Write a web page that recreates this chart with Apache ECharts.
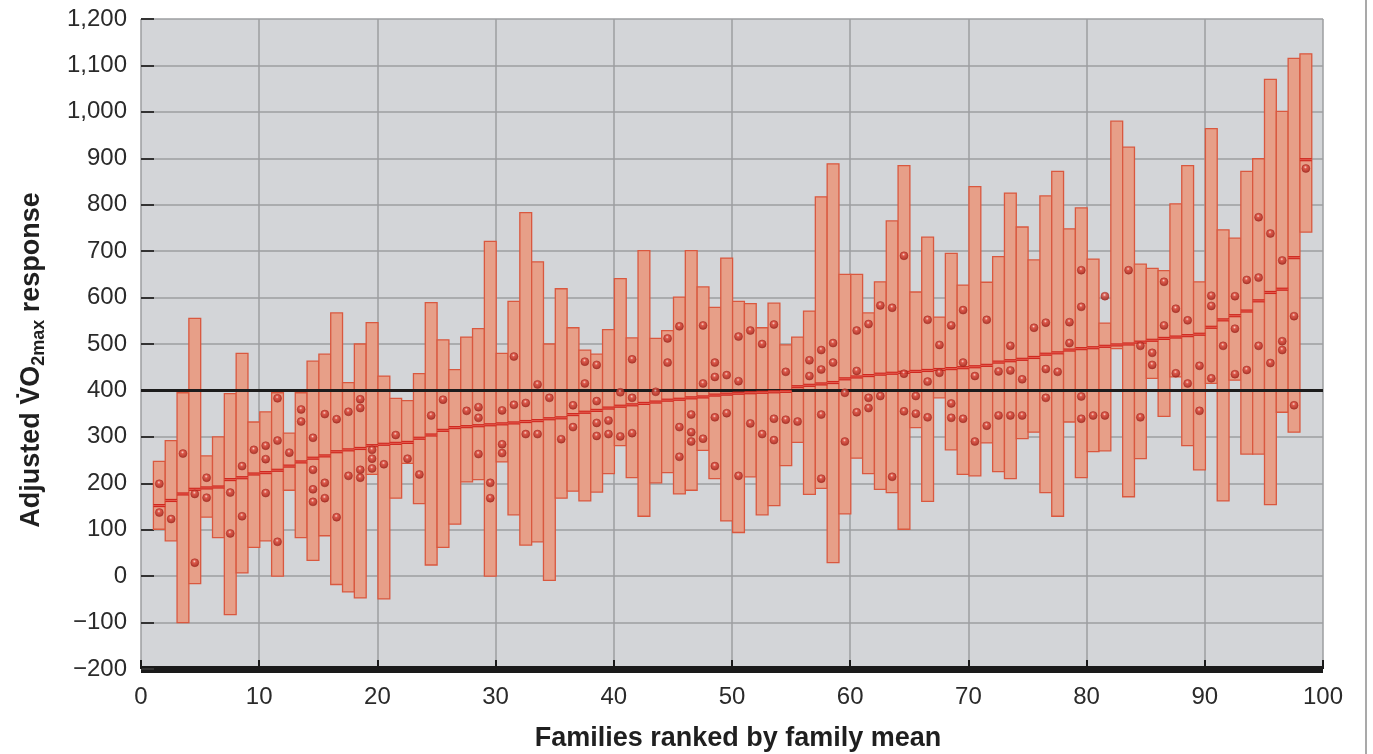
<!DOCTYPE html>
<html>
<head>
<meta charset="utf-8">
<script src="https://cdn.jsdelivr.net/npm/echarts@6/dist/echarts.min.js"></script>
<style>
  html, body { margin: 0; padding: 0; background: #ffffff; }
  #chart { width: 1373px; height: 754px; }
</style>
</head>
<body>
<div id="chart"></div>
<script>
// Highest response in each family (families 1..98, ranked by family mean)
const famMax = [
  247, 292, 395, 555, 259, 300, 393, 480, 332,
  354, 395, 308, 395, 463, 478, 567, 417, 500, 546,
  431, 383, 378, 436, 589, 509, 445, 515, 533, 721,
  480, 592, 783, 677, 500, 619, 535, 487, 478, 531,
  641, 513, 701, 512, 529, 601, 701, 623, 579, 685,
  592, 587, 535, 588, 498, 515, 571, 817, 888, 650,
  650, 567, 634, 765, 884, 612, 730, 558, 695, 627,
  839, 633, 688, 825, 752, 681, 819, 872, 748, 793,
  683, 545, 980, 924, 672, 663, 658, 802, 884, 634,
  964, 746, 728, 872, 899, 1070, 1001, 1115, 1125
];
// Lowest response in each family
const famMin = [
  101, 76, -100, -16, 127, 83, -83, 7, 62,
  76, 0, 185, 83, 34, 87, -18, -34, -47, 219,
  -49, 168, 243, 156, 24, 62, 112, 203, 208, 0,
  246, 132, 67, 74, -9, 168, 183, 162, 181, 221,
  281, 212, 129, 201, 223, 177, 185, 271, 210, 119,
  94, 214, 132, 152, 238, 288, 176, 189, 29, 134,
  254, 221, 187, 180, 101, 320, 161, 384, 272, 219,
  216, 287, 225, 210, 296, 310, 180, 129, 332, 212,
  268, 270, 490, 171, 253, 426, 344, 429, 281, 229,
  415, 162, 422, 263, 263, 154, 353, 310, 741
];
// Family mean response
const famMean = [
  152, 163, 177, 187, 190, 192, 208, 212, 220,
  223, 228, 237, 246, 254, 259, 268, 272, 275, 281,
  284, 286, 288, 297, 304, 314, 320, 322, 324, 326,
  328, 330, 333, 335, 339, 341, 348, 353, 357, 362,
  366, 369, 372, 375, 379, 381, 384, 386, 390, 392,
  394, 395, 396, 397, 398, 408, 411, 414, 417, 425,
  429, 432, 435, 437, 439, 441, 443, 445, 447, 449,
  451, 454, 461, 464, 467, 471, 478, 481, 487, 490,
  492, 495, 498, 500, 504, 508, 512, 515, 518, 521,
  536, 552, 561, 571, 593, 611, 618, 686, 897
];
// Other individual responses inside each family
const famMembers = [
  [199, 137], [123], [264], [177, 29], [212, 169], [], [180, 92], [237, 129], [272],
  [281, 252, 179], [383, 292, 74], [266], [359, 333], [298, 229, 187, 160],
  [349, 201, 168], [338, 127], [354, 216], [381, 362, 229, 212], [272, 253, 232],
  [241], [304], [253], [219], [346], [380], [], [356], [364, 341, 263], [201, 168],
  [357, 284, 265], [473, 369], [373, 306], [413, 306], [384], [295], [368, 321],
  [462, 415], [455, 377, 330, 302], [335, 306],
  [396, 301], [467, 384, 308], [], [397], [512, 460], [538, 321, 257], [348, 310, 290],
  [540, 415, 296], [460, 429, 342, 237], [433, 351],
  [516, 420, 216], [529, 329], [500, 306], [542, 339, 293], [440, 337], [333],
  [465, 431], [487, 445, 348, 210], [502, 460], [395, 290],
  [529, 442, 353], [543, 384, 362], [583, 388], [578, 214], [690, 436, 355], [388, 350],
  [552, 419, 342], [498, 438], [540, 372, 341], [573, 460, 339],
  [431, 290], [552, 324], [441, 346], [496, 443, 346], [424, 346], [535],
  [546, 446, 384], [440], [547, 502], [659, 580, 387, 339],
  [346], [603, 346], [], [659], [496, 342], [481, 455], [634, 540], [576, 437],
  [551, 415], [453, 356],
  [604, 582, 426], [496], [603, 533, 435], [638, 444], [773, 643, 496], [738, 459],
  [680, 506, 487], [560, 368], [878]
];
// Reference level drawn as the heavy horizontal line
const referenceLevel = 400;

const xTicks = [0, 10, 20, 30, 40, 50, 60, 70, 80, 90, 100];
const yTicks = [-200, -100, 0, 100, 200, 300, 400, 500, 600, 700, 800, 900, 1000, 1100, 1200];

const BAR_OFFSET = 0.55; // each family occupies the unit to the right of its rank

const rangeData = famMax.map((hi, i) => [i + 1 + BAR_OFFSET, famMin[i], hi, famMean[i]]);
const memberData = [];
famMembers.forEach((list, i) => {
  list.forEach(v => memberData.push([i + 1 + BAR_OFFSET, v]));
});

const chart = echarts.init(document.getElementById('chart'), null, { renderer: 'canvas' });

const FONT = '"Liberation Sans", Arial, Helvetica, sans-serif';

function renderRange(params, api) {
  const x = api.value(0);
  const top = api.coord([x, api.value(2)]);
  const bottom = api.coord([x, api.value(1)]);
  const w = api.size([1, 0])[0];
  return {
    type: 'rect',
    shape: { x: top[0] - w / 2, y: top[1], width: w, height: bottom[1] - top[1] },
    style: { fill: '#e79f88', stroke: '#d9583f', lineWidth: 1.3 }
  };
}

function renderMean(params, api) {
  const x = api.value(0);
  const p = api.coord([x, api.value(3)]);
  const w = api.size([1, 0])[0];
  return {
    type: 'group',
    children: [
      {
        type: 'line',
        shape: { x1: p[0] - w / 2, y1: p[1], x2: p[0] + w / 2, y2: p[1] },
        style: { stroke: '#d0281f', lineWidth: 3.2 }
      },
      {
        type: 'line',
        shape: { x1: p[0] - w / 2, y1: p[1], x2: p[0] + w / 2, y2: p[1] },
        style: { stroke: '#e86a5c', lineWidth: 0.8 }
      }
    ]
  };
}

const option = {
  backgroundColor: '#ffffff',
  animation: false,
  grid: {
    left: 141, right: 50, top: 19, bottom: 85,
    show: true, backgroundColor: '#d3d5d8', borderWidth: 0
  },
  xAxis: {
    type: 'value',
    min: xTicks[0], max: xTicks[xTicks.length - 1], interval: 10,
    axisLine: { show: true, onZero: false, lineStyle: { color: '#1a1a1a', width: 7, cap: 'butt' } },
    axisTick: { show: true, inside: true, length: 9, lineStyle: { color: '#1a1a1a', width: 2 } },
    axisLabel: {
      margin: 16, color: '#2a2a2a', fontSize: 24, fontFamily: FONT,
      customValues: xTicks
    },
    splitLine: { show: true, lineStyle: { color: '#9c9ea1', width: 1.5 } }
  },
  yAxis: {
    type: 'value',
    min: yTicks[0], max: yTicks[yTicks.length - 1], interval: 100,
    axisLine: { show: false, onZero: false },
    axisTick: { show: true, inside: true, length: 13, lineStyle: { color: '#333333', width: 2 } },
    axisLabel: {
      margin: 14, color: '#2a2a2a', fontSize: 24, fontFamily: FONT,
      formatter: v => (v < 0 ? '\u2212' : '') + Math.abs(v).toLocaleString('en-US')
    },
    splitLine: { show: true, lineStyle: { color: '#9c9ea1', width: 1.5 } }
  },
  series: [
    {
      type: 'custom',
      name: 'range',
      renderItem: renderRange,
      data: rangeData,
      encode: { x: 0, y: [1, 2] },
      z: 2,
      silent: true
    },
    {
      type: 'line',
      name: 'reference',
      data: [[xTicks[0], referenceLevel], [xTicks[xTicks.length - 1], referenceLevel]],
      symbol: 'none',
      lineStyle: { color: '#1c1c1c', width: 3 },
      z: 3,
      silent: true
    },
    {
      type: 'custom',
      name: 'mean',
      renderItem: renderMean,
      data: rangeData,
      encode: { x: 0, y: 3 },
      z: 4,
      silent: true
    },
    {
      type: 'scatter',
      name: 'members',
      data: memberData,
      symbol: 'circle',
      symbolSize: 8,
      itemStyle: {
        color: {
          type: 'radial', x: 0.45, y: 0.35, r: 0.65,
          colorStops: [
            { offset: 0, color: '#fbe3dc' },
            { offset: 0.28, color: '#d9473b' },
            { offset: 1, color: '#9a1c14' }
          ]
        },
        borderColor: '#a0241c',
        borderWidth: 0.6
      },
      z: 5,
      silent: true
    }
  ],
  graphic: [
    {
      type: 'text',
      x: 32, y: 360,
      rotation: Math.PI / 2,
      style: {
        text: '{a|Adjusted V\u0307O}{s|2max}{a| response}',
        textAlign: 'center',
        textVerticalAlign: 'middle',
        rich: {
          a: { fontSize: 27, fontWeight: 'bold', fontFamily: FONT, fill: '#1f1f1f', lineHeight: 32, verticalAlign: 'middle' },
          s: { fontSize: 18, fontWeight: 'bold', fontFamily: FONT, fill: '#1f1f1f', lineHeight: 18, verticalAlign: 'bottom' }
        }
      }
    },
    {
      type: 'text',
      x: 738, y: 739,
      style: {
        text: 'Families ranked by family mean',
        textAlign: 'center',
        textVerticalAlign: 'middle',
        fontSize: 27, fontWeight: 'bold', fontFamily: FONT, fill: '#1f1f1f'
      }
    },
    {
      type: 'rect',
      shape: { x: 1365, y: 0, width: 2, height: 754 },
      style: { fill: '#a9a9a9' }
    }
  ]
};

chart.setOption(option);
</script>
</body>
</html>
